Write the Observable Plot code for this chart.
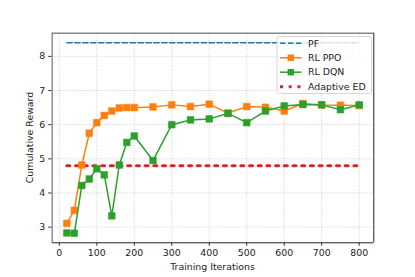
<!DOCTYPE html>
<html><head><meta charset="utf-8">
<script src="https://cdn.jsdelivr.net/npm/d3@7"></script>
<script src="https://cdn.jsdelivr.net/npm/@observablehq/plot@0.6"></script>
<style>body{margin:0;background:#fff}#chart svg{display:block}</style>
</head><body><div id="chart"></div>
<script>
const iterations = [20,40,60,80,100,120,140,160,180,200,250,300,350,400,450,500,550,600,650,700,750,800];
const ppo = [3.11,3.49,4.82,5.75,6.06,6.27,6.40,6.49,6.50,6.50,6.52,6.58,6.53,6.60,6.34,6.53,6.51,6.40,6.62,6.58,6.57,6.56];
const dqn = [2.83,2.82,4.22,4.41,4.71,4.53,3.33,4.82,5.48,5.67,4.95,6.00,6.14,6.17,6.33,6.06,6.40,6.55,6.59,6.58,6.44,6.58];
const pfValue = 8.4;
const adaptiveEdValue = 4.8;
const xTicks = [0,100,200,300,400,500,600,700,800];
const yTicks = [3,4,5,6,7,8];
const seriesNames = ["PF","RL PPO","RL DQN","Adaptive ED"];
const seriesColors = ["#1f77b4","#ff7f0e","#2ca02c","#d62728"];
const xLabel = "Training Iterations";
const yLabel = "Cumulative Reward";

const ppoRows = iterations.map((x,i)=>({x, y: ppo[i]}));
const dqnRows = iterations.map((x,i)=>({x, y: dqn[i]}));
const ends = [iterations[0], iterations[iterations.length-1]];
const pfRows = ends.map(x=>({x, y: pfValue}));
const edRows = ends.map(x=>({x, y: adaptiveEdValue}));

const font = "DejaVu Sans, sans-serif";
const fs = 9.4;
const W = 415, H = 277;
const mL = 51.7, mR = 41.7, mT = 32.7, mB = 34.7;

const chart = Plot.plot({
  width: W, height: H,
  marginLeft: mL, marginRight: mR, marginTop: mT, marginBottom: mB,
  style: {fontFamily: font, fontSize: fs + "px", color: "#222", background: "#fff", overflow: "visible"},
  x: {domain: [-19, 839], ticks: xTicks},
  y: {domain: [2.541, 8.679], ticks: yTicks},
  marks: [
    Plot.gridX(xTicks, {stroke: "#b0b0b0", strokeOpacity: 0.8, strokeDasharray: "1,1.5", strokeWidth: 0.8}),
    Plot.gridY(yTicks, {stroke: "#b0b0b0", strokeOpacity: 0.8, strokeDasharray: "1,1.5", strokeWidth: 0.8}),
    Plot.axisX(xTicks, {tickSize: 3.5, tickPadding: 3.5, label: null, fontSize: fs, stroke: "#333"}),
    Plot.axisY(yTicks, {tickSize: 3.5, tickPadding: 3.5, label: null, fontSize: fs, stroke: "#333"}),
    Plot.line(pfRows, {x: "x", y: "y", stroke: seriesColors[0], strokeWidth: 1.5, strokeDasharray: "5.5,2.4"}),
    Plot.line(edRows, {x: "x", y: "y", stroke: seriesColors[3], strokeWidth: 3, strokeDasharray: "3,5.7"}),
    Plot.line(ppoRows, {x: "x", y: "y", stroke: seriesColors[1], strokeWidth: 1.5}),
    Plot.dot(ppoRows, {x: "x", y: "y", symbol: "square", r: 3.8, fill: seriesColors[1], stroke: seriesColors[1], strokeWidth: 0.5}),
    Plot.line(dqnRows, {x: "x", y: "y", stroke: seriesColors[2], strokeWidth: 1.5}),
    Plot.dot(dqnRows, {x: "x", y: "y", symbol: "square", r: 3.8, fill: seriesColors[2], stroke: seriesColors[2], strokeWidth: 0.5}),
    Plot.axisX({anchor: "top", ticks: [], tickSize: 0, label: null, stroke: "#888", strokeWidth: 1.4}),
    Plot.ruleX([-19], {stroke: "#888", strokeWidth: 1.4}),
    Plot.ruleY([8.679], {stroke: "#888", strokeWidth: 1.4}),
    Plot.ruleX([839], {stroke: "#222", strokeWidth: 1}),
    Plot.ruleY([2.541], {stroke: "#222", strokeWidth: 1})
  ]
});

const svg = d3.select(chart);
// axis titles
svg.append("text").attr("x", (mL + (W - mR)) / 2).attr("y", 269.5)
  .attr("text-anchor", "middle").attr("font-family", font).attr("font-size", fs).attr("fill", "#222").text(xLabel);
svg.append("text").attr("transform", `translate(33,${(mT + (H - mB)) / 2}) rotate(-90)`)
  .attr("text-anchor", "middle").attr("font-family", font).attr("font-size", fs).attr("fill", "#222").text(yLabel);

// legend
const lg = svg.append("g").attr("transform", "translate(277,36.5)");
lg.append("rect").attr("width", 94.5).attr("height", 57).attr("rx", 2)
  .attr("fill", "#fff").attr("fill-opacity", 0.8).attr("stroke", "#ccc").attr("stroke-width", 0.8);
const styles = [
  {dash: "5.5,2.4", w: 1.5, marker: false},
  {dash: null, w: 1.5, marker: true},
  {dash: null, w: 1.5, marker: true},
  {dash: "3,5.7", w: 3, marker: false}
];
seriesNames.forEach((name, i) => {
  const y = 6.8 + i * 14.45;
  const g = lg.append("g").attr("transform", `translate(0,${y})`);
  const ln = g.append("line").attr("x1", 3).attr("x2", 24.5).attr("y1", 0).attr("y2", 0)
    .attr("stroke", seriesColors[i]).attr("stroke-width", styles[i].w);
  if (styles[i].dash) ln.attr("stroke-dasharray", styles[i].dash);
  if (styles[i].marker) g.append("rect").attr("x", 10.6).attr("y", -3.2).attr("width", 6.4).attr("height", 6.4).attr("fill", seriesColors[i]);
  g.append("text").attr("x", 31).attr("y", 0).attr("dy", "0.35em").attr("text-anchor", "start").attr("font-family", font)
    .attr("font-size", fs).attr("fill", "#222").text(name);
});

document.getElementById("chart").appendChild(chart);
</script>
</body></html>
